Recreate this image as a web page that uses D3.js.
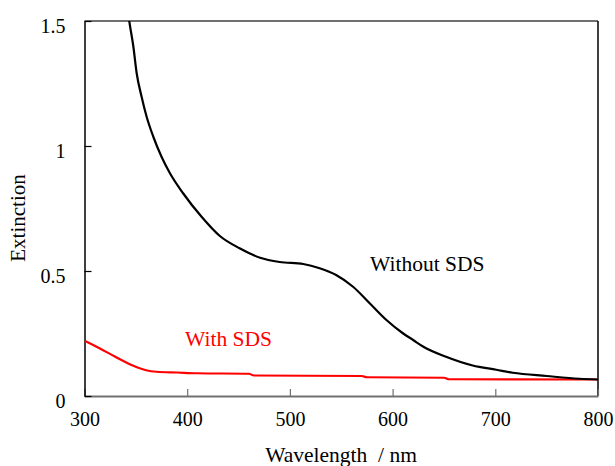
<!DOCTYPE html>
<html><head><meta charset="utf-8">
<script src="https://cdn.jsdelivr.net/npm/d3@7"></script>
<style>body{margin:0;background:#fff}svg{display:block}text{font-family:"Liberation Serif","Times New Roman",serif}</style>
</head><body><svg id="c" width="615" height="466"></svg>
<script>
const xTicks = [300, 400, 500, 600, 700, 800];
const yTicks = [0, 0.5, 1, 1.5];
const yTickLabels = ["0", "0.5", "1", "1.5"];
const seriesNames = ["Without SDS", "With SDS"];
const withoutWl = [340, 343.6, 347.5, 350.8, 355.6, 360.5, 367, 375, 383.2, 396, 414, 431.8, 451, 471, 490, 513, 529, 545, 561.5, 577.7, 594, 610, 620, 630, 652, 678, 701, 717, 750, 782, 800];
const withoutVal = [1.62, 1.5, 1.40, 1.291, 1.197, 1.117, 1.037, 0.957, 0.891, 0.811, 0.717, 0.640, 0.591, 0.553, 0.536, 0.528, 0.511, 0.484, 0.437, 0.371, 0.304, 0.251, 0.224, 0.197, 0.157, 0.122, 0.105, 0.093, 0.080, 0.069, 0.066];
const withWl = [300, 315, 330, 347, 360, 370, 390, 410, 460, 465, 570, 575, 650, 655, 800];
const withVal = [0.221, 0.19, 0.157, 0.122, 0.103, 0.097, 0.094, 0.091, 0.089, 0.082, 0.080, 0.075, 0.073, 0.067, 0.066];

const svg = d3.select("#c");
const x = d3.scaleLinear().domain([300, 800]).range([84.5, 598]);
const y = d3.scaleLinear().domain([0, 1.5]).range([396, 21]);

svg.append("clipPath").attr("id","clip").append("rect")
  .attr("x", 84.5).attr("y", 21).attr("width", 513.5).attr("height", 375);

svg.append("line").attr("x1", 84.5).attr("x2", 598).attr("y1", 21).attr("y2", 21).attr("stroke", "#404040").attr("stroke-width", 1.5);
svg.append("line").attr("x1", 598).attr("x2", 598).attr("y1", 21).attr("y2", 396).attr("stroke", "#000").attr("stroke-width", 1.5);

const xAxis = svg.append("g").attr("transform", "translate(0,396)")
  .call(d3.axisBottom(x).tickValues(xTicks).tickSizeInner(-7).tickSizeOuter(0).tickPadding(16).tickFormat(d3.format("d")));
xAxis.select(".domain").attr("stroke", "#707070").attr("stroke-width", 2);
xAxis.selectAll(".tick line").attr("stroke", "#707070").attr("stroke-width", 1.2);
xAxis.selectAll(".tick text").attr("font-size", 20).attr("fill", "#000").attr("font-family", "Liberation Serif");

const yAxis = svg.append("g").attr("transform", "translate(84.5,0)")
  .call(d3.axisLeft(y).tickValues(yTicks).tickSizeInner(-7).tickSizeOuter(0).tickPadding(19).tickFormat((d,i) => yTickLabels[i]));
yAxis.select(".domain").attr("stroke", "#000").attr("stroke-width", 1.5);
yAxis.selectAll(".tick line").attr("stroke", "#000").attr("stroke-width", 1.2);
yAxis.selectAll(".tick text").attr("font-size", 20).attr("fill", "#000").attr("dy", "0.55em").attr("font-family", "Liberation Serif");

const line = d3.line().x(d => x(d[0])).y(d => y(d[1])).curve(d3.curveMonotoneX);
const g = svg.append("g").attr("clip-path", "url(#clip)");
g.append("path").datum(withWl.map((w,i)=>[w, withVal[i]])).attr("d", line)
  .attr("fill","none").attr("stroke","#ff0000").attr("stroke-width",2.2);
g.append("path").datum(withoutWl.map((w,i)=>[w, withoutVal[i]])).attr("d", line)
  .attr("fill","none").attr("stroke","#000").attr("stroke-width",2.2);

svg.append("text").attr("x", 370).attr("y", 271).attr("font-size", 21.5).attr("fill", "#000").text(seriesNames[0]);
svg.append("text").attr("x", 185).attr("y", 346).attr("font-size", 21.5).attr("fill", "#ff0000").text(seriesNames[1]);

svg.append("text").attr("x", 341).attr("y", 462).attr("text-anchor", "middle").attr("font-size", 21.5).attr("fill","#000")
  .attr("xml:space","preserve").text("Wavelength  / nm");
svg.append("text").attr("transform", "translate(25,218) rotate(-90)").attr("text-anchor", "middle").attr("font-size", 21).attr("fill","#000").text("Extinction");
</script></body></html>
